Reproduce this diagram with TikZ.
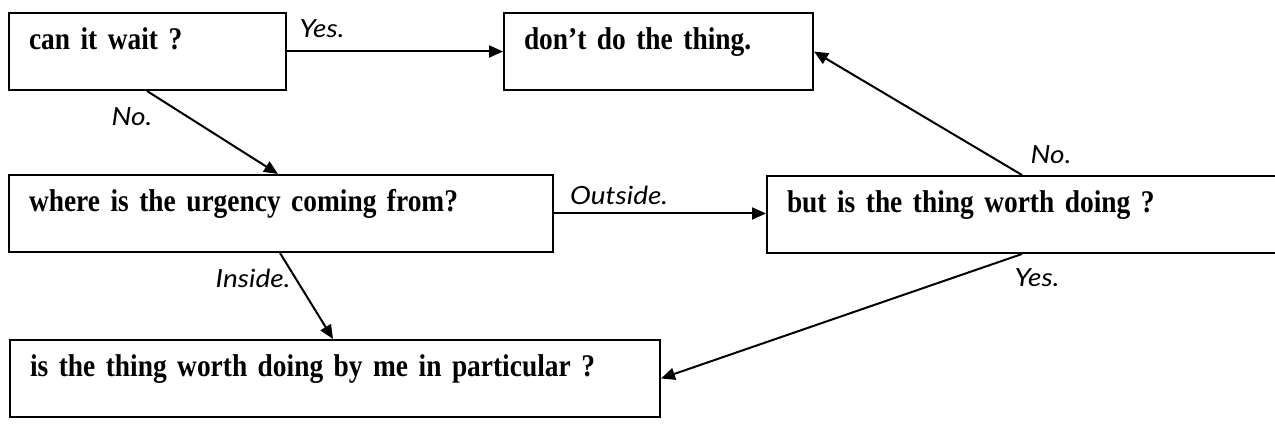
\documentclass[tikz,border=0pt]{standalone}
\usepackage{fontspec}
\setmainfont{Liberation Serif}
\newfontfamily\qfont[FakeStretch=0.87]{Liberation Serif}
\newfontfamily\lblfont[FakeStretch=1.12]{Lato}
\usetikzlibrary{calc}
\usetikzlibrary{arrows.meta}

\begin{document}
\begin{tikzpicture}[x=1pt,y=-1pt,
    qbox/.style={draw, line width=2pt, anchor=north west, inner xsep=20pt, inner ysep=0pt,
        text height=37pt, text depth=40pt, align=left,
        font=\qfont\fontsize{31.5}{33}\selectfont\bfseries},
    answer/.style={font=\lblfont\itshape\fontsize{25}{27}\selectfont, inner sep=0pt},
    arr/.style={-{Triangle[length=14pt,width=12pt]}, line width=2pt}]
    \useasboundingbox (0,0) rectangle (1275,427);

    \node[qbox, text width=237pt] (wait) at (8,12) {can it wait ?};
    \node[qbox, text width=269pt] (dont) at (503,12) {don’t do the thing.};
    \node[qbox, text width=504pt] (urgency) at (8,174) {where is the urgency coming from?};
    \node[qbox, text width=480pt] (worth) at (766,175) {but is the thing worth doing ?};
    \node[qbox, text width=610pt] (byme) at (9,339) {is the thing worth doing by me in particular ?};

    \draw[arr] (wait.east) -- (wait.east -| dont.west);
    \draw[arr] ([xshift=139pt]wait.south west) -- ([xshift=270pt]urgency.north west);
    \draw[arr] (urgency.east) -- (urgency.east -| worth.west);
    \draw[arr] ([xshift=272pt]urgency.south west) -- ([xshift=324pt]byme.north west);
    \draw[arr] ([xshift=256pt]worth.north west) -- (dont.east);
    \draw[arr] ([xshift=256pt]worth.south west) -- (byme.east);

    \node[answer] (yes1) at (322,29) {Yes.};
    \node[answer] (no1) at (132,117) {No.};
    \node[answer] (outside) at (619,195) {Outside.};
    \node[answer] (inside) at (253,278) {Inside.};
    \node[answer] (no2) at (1051,155) {No.};
    \node[answer] (yes2) at (1037,278) {Yes.};
\end{tikzpicture}
\end{document}
